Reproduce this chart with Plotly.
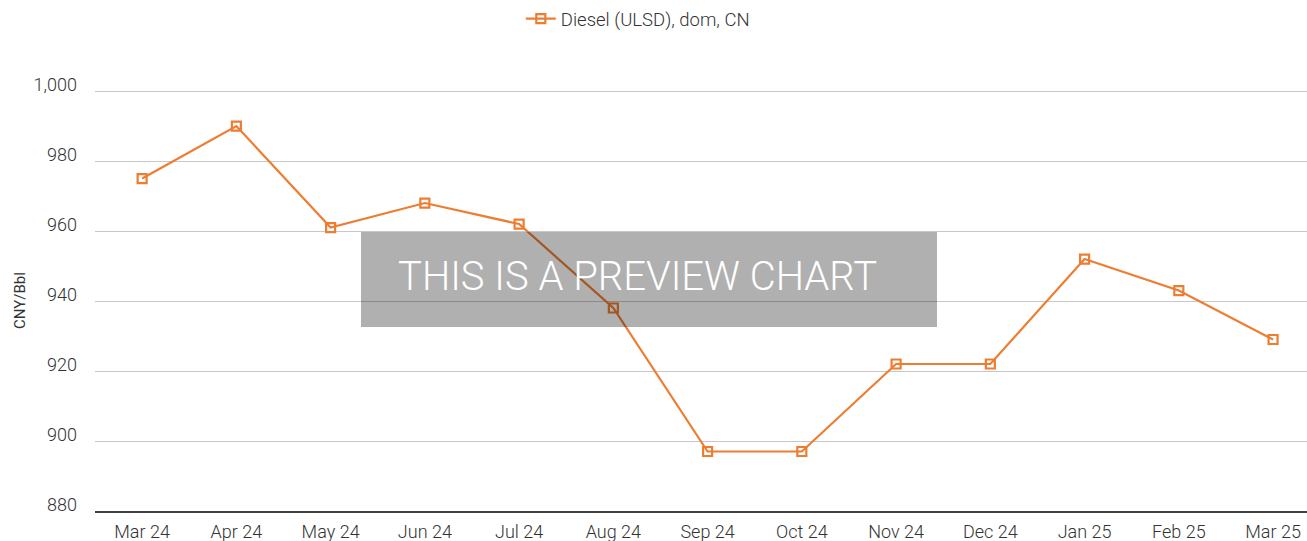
import plotly.graph_objects as go

categories = ["Mar 24", "Apr 24", "May 24", "Jun 24", "Jul 24", "Aug 24", "Sep 24",
              "Oct 24", "Nov 24", "Dec 24", "Jan 25", "Feb 25", "Mar 25"]
diesel = [975, 990, 961, 968, 962, 938, 897, 897, 922, 922, 952, 943, 929]
y_ticks = [880, 900, 920, 940, 960, 980, 1000]
y_tick_text = ["880", "900", "920", "940", "960", "980", "1,000"]

ORANGE = "#ED7D31"
TXT = "#333333"
W, H = 1307, 541
L, R, T, B = 95, 0, 90, 30
pw, ph = W - L - R, H - T - B

def lf(size, color=TXT, weight=300):
    return dict(family="Roboto", size=size, color=color, weight=weight)

fig = go.Figure()
fig.add_trace(go.Scatter(
    x=list(range(len(categories))), y=diesel, mode="lines+markers",
    name="Diesel (ULSD), dom, CN",
    line=dict(color=ORANGE, width=2.2),
    marker=dict(symbol="square-open", size=9, color=ORANGE, line=dict(width=2.2, color=ORANGE)),
))

fig.update_layout(
    width=W, height=H,
    margin=dict(l=L, r=R, t=T, b=B),
    paper_bgcolor="white", plot_bgcolor="white",
    font=lf(18),
    showlegend=True,
    legend=dict(orientation="h", x=0.488, xref="container", xanchor="center",
                y=1.0, yref="container", yanchor="top",
                font=lf(18.5), itemwidth=30),
    xaxis=dict(
        tickmode="array", tickvals=list(range(len(categories))), ticktext=categories,
        range=[-0.5, 12.36], showgrid=False, zeroline=False,
        showline=True, linecolor="#404040", linewidth=1.5, ticks="",
        ticklabelstandoff=4, tickfont=lf(18),
    ),
    yaxis=dict(
        range=[880, 1000.3], tickmode="array", tickvals=y_ticks, ticktext=y_tick_text,
        showgrid=True, gridcolor="#C8C8C8", gridwidth=1, zeroline=False, showline=False,
        ticks="", ticklabelstandoff=17, ticklabelshift=-6, tickfont=lf(18),
        title=dict(text="CNY/Bbl", font=lf(15, weight=400), standoff=4),
    ),
)

# preview overlay
fig.add_shape(type="rect", xref="paper", yref="paper",
              x0=(361 - L) / pw, x1=(937 - L) / pw,
              y0=(H - B - 327) / ph, y1=(H - B - 232) / ph,
              fillcolor="rgba(0,0,0,0.31)", line=dict(width=0), layer="above")
fig.add_annotation(xref="paper", yref="paper", x=(396 - L) / pw, y=(H - B - 276) / ph,
                   xanchor="left", yanchor="middle", showarrow=False,
                   text="THIS IS A PREVIEW CHART",
                   font=lf(40, "white"))

fig.write_html("out.html", config={"displayModeBar": False},
               post_script="document.body.style.margin='0px';document.body.style.padding='0px';")
